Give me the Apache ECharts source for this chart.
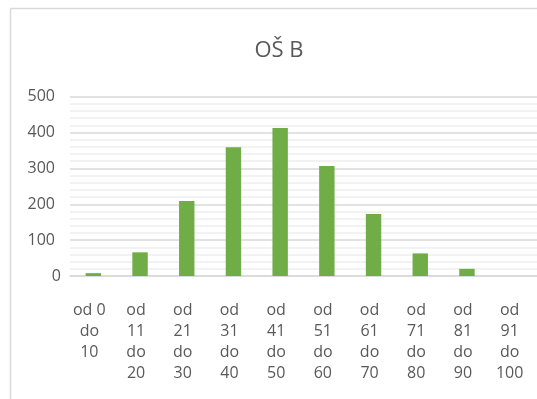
<!DOCTYPE html>
<html>
<head>
<meta charset="utf-8">
<script src="https://cdn.jsdelivr.net/npm/echarts@6/dist/echarts.min.js"></script>
<style>
  html, body { margin: 0; padding: 0; background: #fff; }
  #chart { width: 537px; height: 399px; }
</style>
</head>
<body>
<div id="chart"></div>
<script>
// Score bands (points range) and number of pupils in each
const categories = ['od 0\ndo\n10', 'od\n11\ndo\n20', 'od\n21\ndo\n30', 'od\n31\ndo\n40', 'od\n41\ndo\n50',
                    'od\n51\ndo\n60', 'od\n61\ndo\n70', 'od\n71\ndo\n80', 'od\n81\ndo\n90', 'od\n91\ndo\n100'];
const counts = [8, 66, 209, 359, 413, 307, 173, 63, 20, 0];
const titleText = 'OŠ B';
const yMin = 0, yMax = 500, yStep = 100;

const textColor = '#595959';
const fontFamily = '"Open Sans", "Noto Sans", sans-serif';

const chart = echarts.init(document.getElementById('chart'), null, { renderer: 'canvas' });
chart.setOption({
  animation: false,
  backgroundColor: '#ffffff',
  title: {
    text: titleText,
    left: 274,
    top: 35,
    textAlign: 'center',
    textStyle: { color: textColor, fontSize: 22, fontWeight: 'normal', fontFamily: fontFamily }
  },
  graphic: [
    { type: 'line', shape: { x1: 10.5, y1: 8.5, x2: 537, y2: 8.5 }, style: { stroke: '#d9d9d9', lineWidth: 1.5 } },
    { type: 'line', shape: { x1: 10.5, y1: 8.5, x2: 10.5, y2: 399 }, style: { stroke: '#d9d9d9', lineWidth: 1.5 } }
  ],
  grid: { left: 70, top: 96.7, width: 471, height: 179.3, containLabel: false },
  xAxis: {
    type: 'category',
    data: categories,
    axisLine: { show: true, lineStyle: { color: '#d9d9d9', width: 1.5 } },
    axisTick: { show: false },
    axisLabel: {
      interval: 0,
      margin: 24,
      color: textColor,
      fontSize: 16,
      lineHeight: 21,
      fontFamily: fontFamily,
      padding: [0, 8, 0, 0]
    }
  },
  yAxis: {
    type: 'value',
    min: yMin,
    max: yMax,
    interval: yStep,
    minorTick: { show: false, splitNumber: 5 },
    minorSplitLine: { show: true, lineStyle: { color: '#eeeeee', width: 1.5 } },
    splitLine: { show: true, lineStyle: { color: '#d9d9d9', width: 1.5 } },
    axisLine: { show: false },
    axisTick: { show: false },
    axisLabel: {
      margin: 9,
      color: textColor,
      fontSize: 16,
      fontFamily: fontFamily,
      formatter: function (v) { return v === 0 ? '{v|0}' : '{v|' + v + '}{s|}'; },
      rich: {
        v: { color: textColor, fontSize: 16, fontFamily: fontFamily },
        s: { width: 6 }
      }
    }
  },
  series: [{
    type: 'bar',
    data: counts,
    barWidth: '33%',
    itemStyle: { color: '#70ad47' }
  }]
});
</script>
</body>
</html>
